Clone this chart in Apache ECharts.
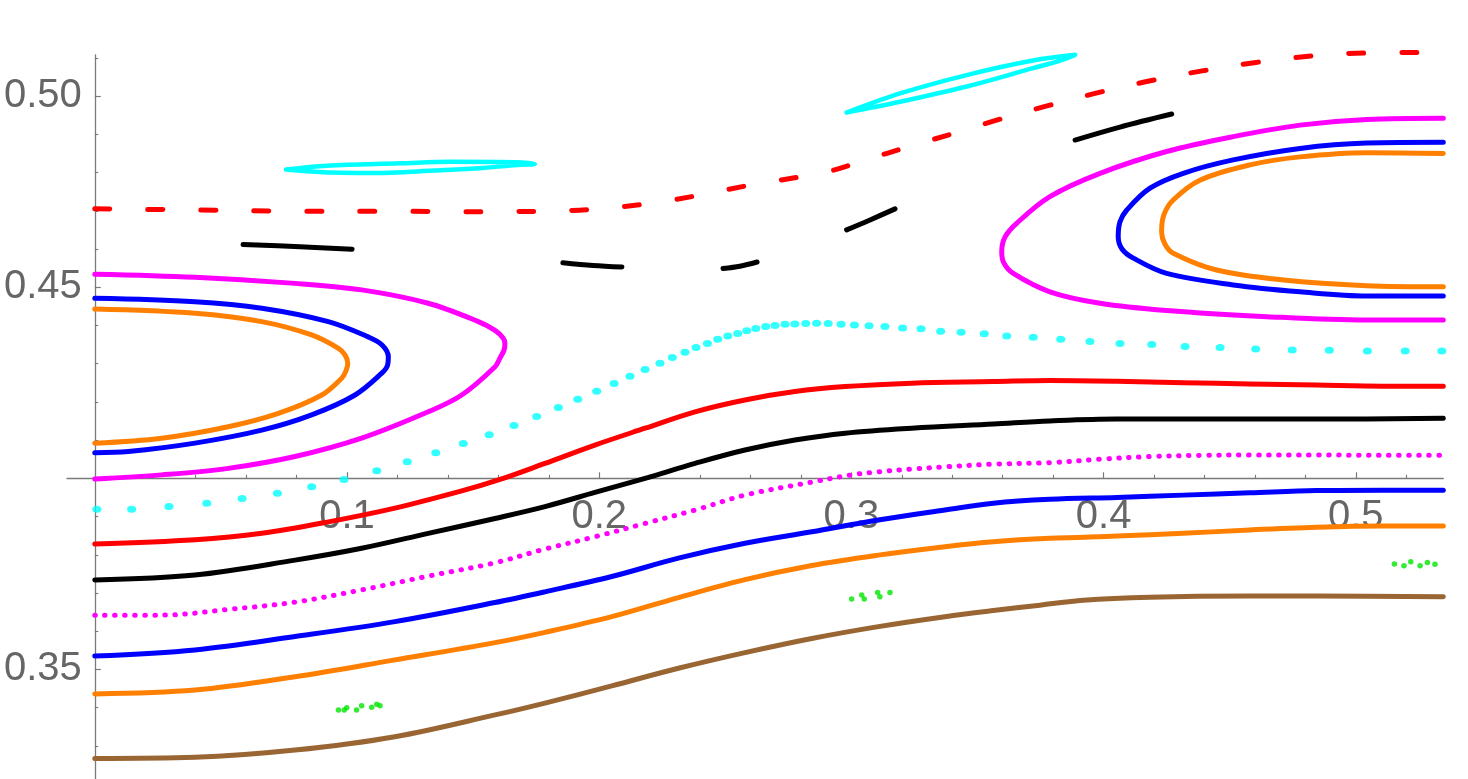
<!DOCTYPE html>
<html><head><meta charset="utf-8">
<script src="https://cdn.jsdelivr.net/npm/echarts@6/dist/echarts.min.js"></script>
<style>html,body{margin:0;padding:0;background:#fff}#c{width:1468px;height:779px}</style>
</head><body><div id="c"></div>
<script>
// ---- axis ticks / labels ----
const xMajorTicks = [0.1, 0.2, 0.3, 0.4, 0.5];
const xMinorTicks = [0.02,0.04,0.06,0.08,0.12,0.14,0.16,0.18,0.22,0.24,0.26,0.28,0.32,0.34,0.36,0.38,0.42,0.44,0.46,0.48,0.52];
const yMajorTicks = [0.35, 0.40, 0.45, 0.50];
const yLabelValues = [0.35, 0.45, 0.50];
const yMinorTicks = [0.33,0.34,0.36,0.37,0.38,0.39,0.41,0.42,0.43,0.44,0.46,0.47,0.48,0.49,0.51];

// ---- curves (x, y) ----
const magentaLeft = [[0.000,0.4534],[0.0397,0.4526],[0.0794,0.4510],[0.1058,0.4493],[0.1322,0.4458],[0.1521,0.4410],[0.1587,0.4387],[0.1619,0.4367],[0.1626,0.4353],[0.1623,0.4336],[0.1607,0.4315],[0.1587,0.4292],[0.1455,0.4218],[0.1322,0.4174],[0.1058,0.4105],[0.0794,0.4057],[0.0529,0.4026],[0.0265,0.4009],[0.000,0.3998]];
const blueLeft = [[0.000,0.4471],[0.0397,0.4462],[0.0662,0.4445],[0.0926,0.4410],[0.1084,0.4370],[0.1139,0.4349],[0.1164,0.4318],[0.1161,0.4296],[0.1138,0.4275],[0.1032,0.4218],[0.0860,0.4166],[0.0662,0.4126],[0.0397,0.4092],[0.0133,0.4070],[0.000,0.4067]];
const orangeLeft = [[0.000,0.4443],[0.0397,0.4432],[0.0662,0.4410],[0.0860,0.4375],[0.0966,0.4340],[0.0992,0.4323],[0.1003,0.4301],[0.0996,0.4281],[0.0979,0.4262],[0.0900,0.4218],[0.0728,0.4170],[0.0529,0.4135],[0.0265,0.4105],[0.000,0.4092]];
const magentaRight = [[0.5347,0.4942],[0.5043,0.4939],[0.4779,0.4924],[0.4514,0.4894],[0.4250,0.4855],[0.3986,0.4798],[0.3787,0.4737],[0.3655,0.4667],[0.3609,0.4631],[0.3596,0.4593],[0.3605,0.4563],[0.3642,0.4536],[0.3787,0.4488],[0.3986,0.4458],[0.4250,0.4439],[0.4647,0.4423],[0.5043,0.4414],[0.5347,0.4414]];
const blueRight = [[0.5347,0.4879],[0.5043,0.4877],[0.4779,0.4863],[0.4514,0.4833],[0.4316,0.4798],[0.4184,0.4759],[0.4092,0.4702],[0.4065,0.4671],[0.4058,0.4632],[0.4073,0.4600],[0.4118,0.4576],[0.4250,0.4536],[0.4514,0.4506],[0.4779,0.4488],[0.5043,0.4477],[0.5347,0.4477]];
const orangeRight = [[0.5347,0.4850],[0.5043,0.4852],[0.4779,0.4841],[0.4580,0.4820],[0.4382,0.4780],[0.4276,0.4728],[0.4239,0.4689],[0.4230,0.4645],[0.4243,0.4613],[0.4276,0.4589],[0.4448,0.4545],[0.4713,0.4519],[0.5043,0.4504],[0.5347,0.4501]];
const cyanLoopLeft = [[0.0758,0.4808],[0.0921,0.4818],[0.1210,0.4824],[0.1408,0.4828],[0.1674,0.4827],[0.1745,0.4822],[0.1674,0.4820],[0.1539,0.4812],[0.1341,0.4805],[0.1143,0.4799],[0.0905,0.4801],[0.0758,0.4808]];
const cyanLoopTop = [[0.2981,0.4957],[0.3193,0.5007],[0.3457,0.5055],[0.3720,0.5093],[0.3887,0.5108],[0.3827,0.5093],[0.3720,0.5073],[0.3457,0.5025],[0.3193,0.4985],[0.2981,0.4957]];
const redDashed = [[0.000,0.4705],[0.0417,0.4702],[0.0814,0.4699],[0.1234,0.4699],[0.1428,0.4697],[0.1626,0.4698],[0.1801,0.4699],[0.1975,0.4704],[0.2201,0.4719],[0.2400,0.4741],[0.2598,0.4767],[0.2902,0.4802],[0.3066,0.4835],[0.3224,0.4867],[0.3403,0.4902],[0.3576,0.4937],[0.3768,0.4973],[0.3966,0.5007],[0.4171,0.5038],[0.4391,0.5066],[0.4604,0.5088],[0.4838,0.5106],[0.5059,0.5113],[0.5347,0.5114]];
const blackDashSegments = [
  [[0.0588,0.4612],[0.0814,0.4606],[0.1020,0.4599]],
  [[0.1856,0.4564],[0.1975,0.4557],[0.2090,0.4553]],
  [[0.2491,0.4549],[0.2558,0.4555],[0.2626,0.4566]],
  [[0.2981,0.4650],[0.3074,0.4676],[0.3173,0.4705]],
  [[0.3887,0.4885],[0.4065,0.4919],[0.4270,0.4953]]
];
const cyanDots = [[0.0008,0.3919],[0.0146,0.3919],[0.0294,0.3926],[0.0444,0.3935],[0.0584,0.3947],[0.0724,0.3961],[0.0860,0.3978],[0.0988,0.3997],[0.1118,0.4020],[0.1239,0.4043],[0.1352,0.4067],[0.1461,0.4091],[0.1564,0.4114],[0.1662,0.4138],[0.1752,0.4162],[0.1838,0.4185],[0.1915,0.4207],[0.1990,0.4228],[0.2059,0.4248],[0.2122,0.4267],[0.2182,0.4285],[0.2241,0.4301],[0.2290,0.4316],[0.2340,0.4330],[0.2384,0.4342],[0.2429,0.4353],[0.2470,0.4364],[0.2510,0.4372],[0.2549,0.4379],[0.2585,0.4386],[0.2621,0.4392],[0.2660,0.4397],[0.2697,0.4400],[0.2737,0.4403],[0.2776,0.4404],[0.2819,0.4405],[0.2862,0.4406],[0.2908,0.4405],[0.2959,0.4403],[0.3012,0.4401],[0.3070,0.4399],[0.3133,0.4397],[0.3203,0.4393],[0.3276,0.4391],[0.3354,0.4385],[0.3435,0.4382],[0.3527,0.4378],[0.3616,0.4372],[0.3721,0.4369],[0.3830,0.4364],[0.3946,0.4358],[0.4065,0.4353],[0.4191,0.4350],[0.4323,0.4345],[0.4462,0.4342],[0.4603,0.4338],[0.4748,0.4336],[0.4895,0.4335],[0.5046,0.4333],[0.5196,0.4333],[0.5341,0.4333]];
const magentaDotted = [[0.000,0.3642],[0.0265,0.3642],[0.0529,0.3657],[0.0794,0.3676],[0.1058,0.3708],[0.1322,0.3744],[0.1587,0.3779],[0.1785,0.3815],[0.1983,0.3847],[0.2182,0.3882],[0.2380,0.3917],[0.2578,0.3956],[0.2843,0.3990],[0.3001,0.4009],[0.3107,0.4017],[0.3239,0.4024],[0.3371,0.4030],[0.3563,0.4037],[0.3787,0.4041],[0.3986,0.4050],[0.4184,0.4057],[0.4382,0.4060],[0.4580,0.4061],[0.4845,0.4061],[0.5109,0.4060],[0.5347,0.4060]];
const redSolid = [[0.000,0.3828],[0.0397,0.3839],[0.0662,0.3856],[0.0926,0.3886],[0.1190,0.3922],[0.1455,0.3967],[0.1607,0.3997],[0.1785,0.4039],[0.1983,0.4087],[0.2182,0.4131],[0.2380,0.4174],[0.2578,0.4205],[0.2776,0.4227],[0.2975,0.4240],[0.3239,0.4249],[0.3563,0.4253],[0.3787,0.4256],[0.4052,0.4254],[0.4316,0.4250],[0.4580,0.4247],[0.4845,0.4244],[0.5109,0.4241],[0.5347,0.4241]];
const blackSolid = [[0.000,0.3734],[0.0397,0.3747],[0.0794,0.3786],[0.1058,0.3817],[0.1322,0.3856],[0.1587,0.3895],[0.1785,0.3926],[0.1983,0.3963],[0.2182,0.4000],[0.2380,0.4039],[0.2578,0.4074],[0.2776,0.4100],[0.2975,0.4118],[0.3239,0.4131],[0.3563,0.4142],[0.3787,0.4150],[0.4052,0.4155],[0.4448,0.4155],[0.4845,0.4155],[0.5347,0.4157]];
const blueLower = [[0.000,0.3535],[0.0397,0.3551],[0.0794,0.3586],[0.1190,0.3625],[0.1587,0.3675],[0.1785,0.3703],[0.2050,0.3743],[0.2314,0.3791],[0.2578,0.3830],[0.2843,0.3860],[0.3107,0.3891],[0.3371,0.3917],[0.3563,0.3935],[0.3787,0.3945],[0.4052,0.3950],[0.4316,0.3956],[0.4580,0.3962],[0.4845,0.3968],[0.5109,0.3969],[0.5347,0.3969]];
const orangeLower = [[0.000,0.3436],[0.0397,0.3446],[0.0794,0.3481],[0.1190,0.3525],[0.1587,0.3570],[0.1785,0.3597],[0.2050,0.3638],[0.2314,0.3688],[0.2578,0.3735],[0.2843,0.3772],[0.3107,0.3799],[0.3371,0.3821],[0.3563,0.3834],[0.3787,0.3843],[0.4052,0.3849],[0.4316,0.3856],[0.4580,0.3865],[0.4845,0.3872],[0.5109,0.3875],[0.5347,0.3875]];
const brownLower = [[0.000,0.3267],[0.0397,0.3270],[0.0794,0.3289],[0.1190,0.3324],[0.1587,0.3381],[0.1785,0.3412],[0.2050,0.3457],[0.2314,0.3503],[0.2578,0.3544],[0.2843,0.3581],[0.3107,0.3612],[0.3371,0.3638],[0.3563,0.3654],[0.3748,0.3668],[0.3919,0.3681],[0.4184,0.3689],[0.4580,0.3692],[0.4845,0.3692],[0.5347,0.3690]];
const greenDots = [[0.0966,0.3394],[0.0989,0.3394],[0.0999,0.3400],[0.1038,0.3394],[0.1058,0.3405],[0.1098,0.3401],[0.1118,0.3409],[0.1131,0.3405],
  [0.3001,0.3684],[0.3041,0.3695],[0.3051,0.3684],[0.3104,0.3701],[0.3113,0.3690],[0.3153,0.3701],
  [0.5153,0.3776],[0.5191,0.3771],[0.5218,0.3782],[0.5255,0.3771],[0.5284,0.3780],[0.5314,0.3775]];

const C = {magenta:'#ff00ff', blue:'#0000ff', orange:'#ff8000', red:'#ff0000', black:'#000000', cyan:'#00ffff', brown:'#996633', green:'#00e600'};
const W = 5;

function line(data, color, extra) {
  const o = {type:'line', data:data, showSymbol:false, symbol:'none', smooth:0.35, animation:false,
    xAxisIndex:0, yAxisIndex:0,
    lineStyle:{color:color, width:W, cap:'round', join:'round'}};
  if (extra && extra.dash) o.lineStyle.type = extra.dash;
  if (extra && extra.width) o.lineStyle.width = extra.width;
  if (extra && extra.noclip) o.clip = false;
  return o;
}

const series = [
  line(brownLower, C.brown),
  line(orangeLower, C.orange),
  line(blueLower, C.blue),
  line(magentaDotted, C.magenta, {dash:[0.5, 9.5], width:5}),
  line(blackSolid, C.black),
  line(redSolid, C.red),
  line(magentaLeft, C.magenta),
  line(blueLeft, C.blue),
  line(orangeLeft, C.orange),
  line(magentaRight, C.magenta),
  line(blueRight, C.blue),
  line(orangeRight, C.orange),
  line(cyanLoopLeft, C.cyan, {width:4.5}),
  line(cyanLoopTop, C.cyan, {width:4.5, noclip:true}),
  line(redDashed, C.red, {dash:[15, 38], width:5, noclip:true})
];
blackDashSegments.forEach(seg => series.push(line(seg, C.black)));
series.push({type:'scatter', data:cyanDots, symbol:'circle', symbolSize:[9,7], itemStyle:{color:C.cyan}, animation:false, xAxisIndex:0, yAxisIndex:0});
series.push({type:'scatter', data:greenDots, symbol:'circle', symbolSize:5.5, itemStyle:{color:C.green}, animation:false, xAxisIndex:0, yAxisIndex:0});

const AX = '#7a7a7a';
const labelFont = {color:'#666666', fontSize:40, fontFamily:'Liberation Sans, Arial, sans-serif'};
const xMin = -0.01102, xMax = 0.5347, yMin = 0.32133, yMax = 0.51075;
const xOffset = -300.7;
const yOffset = -27.8;

const chart = echarts.init(document.getElementById('c'), null, {renderer:'canvas'});
chart.setOption({
  backgroundColor:'#ffffff',
  animation:false,
  grid:{left:67, right:24.7, top:55, bottom:0, containLabel:false, outerBoundsMode:'none'},
  xAxis:[
    {type:'value', min:xMin, max:xMax, position:'bottom', offset:xOffset,
     axisLine:{show:true, onZero:false, lineStyle:{color:AX, width:1.3}},
     axisTick:{show:true, inside:true, length:6, customValues:xMajorTicks, lineStyle:{color:AX, width:1.2}},
     axisLabel:Object.assign({show:true, margin:19, customValues:xMajorTicks, formatter:v => v.toFixed(1)}, labelFont),
     splitLine:{show:false}},
    {type:'value', min:xMin, max:xMax, position:'bottom', offset:xOffset,
     axisLine:{show:false, onZero:false},
     axisTick:{show:true, inside:true, length:3.5, customValues:xMinorTicks, lineStyle:{color:AX, width:1.1}},
     axisLabel:{show:false}, splitLine:{show:false}}
  ],
  yAxis:[
    {type:'value', min:yMin, max:yMax, position:'left', offset:yOffset,
     axisLine:{show:true, onZero:false, lineStyle:{color:AX, width:1.3}},
     axisTick:{show:true, inside:true, length:6, customValues:yMajorTicks, lineStyle:{color:AX, width:1.2}},
     axisLabel:Object.assign({show:true, margin:13, customValues:yLabelValues, formatter:v => v.toFixed(2)}, labelFont),
     splitLine:{show:false}},
    {type:'value', min:yMin, max:yMax, position:'left', offset:yOffset,
     axisLine:{show:false, onZero:false},
     axisTick:{show:true, inside:true, length:3.5, customValues:yMinorTicks, lineStyle:{color:AX, width:1.1}},
     axisLabel:{show:false}, splitLine:{show:false}}
  ],
  series:series
});
</script></body></html>
